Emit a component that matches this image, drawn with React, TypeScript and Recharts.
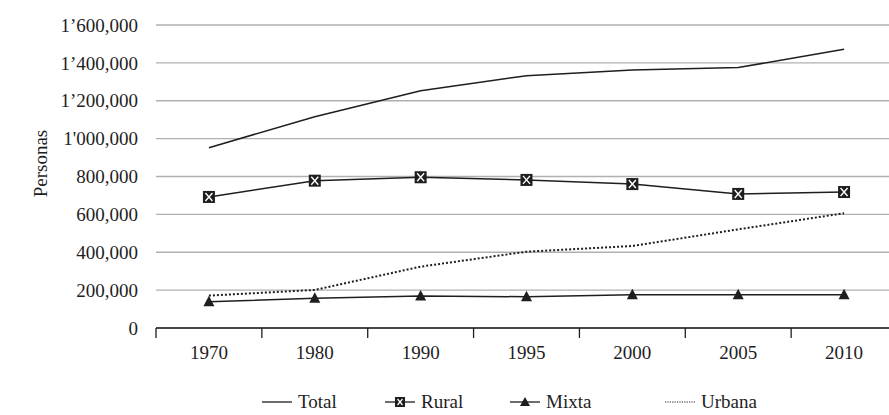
import React from 'react';
import { LineChart, Line, XAxis, YAxis, CartesianGrid, Legend } from 'recharts';

const years = ['1970', '1980', '1990', '1995', '2000', '2005', '2010'];
const total = [952000, 1116000, 1253000, 1332000, 1362000, 1375000, 1472000];
const rural = [692000, 778000, 796000, 782000, 760000, 708000, 718000];
const mixta = [139000, 157000, 169000, 165000, 176000, 176000, 176000];
const urbana = [171000, 201000, 324000, 403000, 433000, 521000, 606000];

const yTicks = [0, 200000, 400000, 600000, 800000, 1000000, 1200000, 1400000, 1600000];
const yTickLabels = ['0', '200,000', '400,000', '600,000', '800,000', "1'000,000", '1’200,000', '1’400,000', '1’600,000'];

const data = years.map((year, i) => ({
  year,
  total: total[i],
  rural: rural[i],
  mixta: mixta[i],
  urbana: urbana[i],
}));

const FONT = '"Liberation Serif", "DejaVu Serif", serif';
const INK = '#1e1e1e';

const RuralDot = (props: any) => {
  const { cx, cy } = props;
  if (cx == null || cy == null) return null;
  return (
    <g>
      <rect x={cx - 6} y={cy - 6} width={12} height={12} fill={INK} />
      <path
        d={`M${cx - 3.5},${cy - 4} L${cx + 3.5},${cy + 4} M${cx + 3.5},${cy - 4} L${cx - 3.5},${cy + 4}`}
        stroke="#fff"
        strokeWidth={1.4}
      />
    </g>
  );
};

const MixtaDot = (props: any) => {
  const { cx, cy } = props;
  if (cx == null || cy == null) return null;
  return <polygon points={`${cx},${cy - 6} ${cx + 5.5},${cy + 4.5} ${cx - 5.5},${cy + 4.5}`} fill={INK} />;
};

// category labels sit in the middle of each band, tick marks on the band edges
const YearTick = (props: any) => {
  const { x, y, payload } = props;
  const half = payload?.offset ? payload.offset : 741 / years.length / 2;
  return (
    <g>
      <line x1={x - half} x2={x - half} y1={y} y2={y + 10} stroke={INK} strokeWidth={1.3} />
      <text x={x} y={y + 31} textAnchor="middle" fill={INK} fontSize={19} fontFamily={FONT}>
        {payload.value}
      </text>
    </g>
  );
};

const legendItems = [
  { key: 'Total', left: 262, icon: 'line' },
  { key: 'Rural', left: 385, icon: 'square' },
  { key: 'Mixta', left: 510, icon: 'triangle' },
  { key: 'Urbana', left: 665, icon: 'dotted' },
];

const LegendIcon = ({ type }: { type: string }) => (
  <svg width={30} height={14} style={{ marginRight: 6 }}>
    <line
      x1={0}
      x2={30}
      y1={7}
      y2={7}
      stroke={INK}
      strokeWidth={type === 'dotted' ? 1.2 : 1.3}
      strokeDasharray={type === 'dotted' ? '1.2 1.2' : undefined}
    />
    {type === 'square' && (
      <g>
        <rect x={10} y={2} width={10} height={10} fill={INK} />
        <path d="M12.5,4 L17.5,10 M17.5,4 L12.5,10" stroke="#fff" strokeWidth={1.2} />
      </g>
    )}
    {type === 'triangle' && <polygon points="15,2 20,11 10,11" fill={INK} />}
  </svg>
);

const renderLegend = () => (
  <div style={{ position: 'relative', width: 889, height: 24 }}>
    {legendItems.map((item) => (
      <div
        key={item.key}
        style={{
          position: 'absolute',
          left: item.left,
          top: 0,
          display: 'flex',
          alignItems: 'center',
          fontFamily: FONT,
          fontSize: 19,
          color: INK,
          whiteSpace: 'nowrap',
        }}
      >
        <LegendIcon type={item.icon} />
        <span>{item.key}</span>
      </div>
    ))}
  </div>
);

const PersonasLabel = (props: any) => {
  const vb = props.viewBox || {};
  const cx = 40;
  const cy = (vb.y ?? 25) + (vb.height ?? 303) / 2 - 13;
  return (
    <text
      x={cx}
      y={cy}
      transform={`rotate(-90, ${cx}, ${cy})`}
      textAnchor="middle"
      dominantBaseline="central"
      fontSize={19}
      fontFamily={FONT}
      fill={INK}
    >
      Personas
    </text>
  );
};

export default function App() {
  return (
    <div style={{ width: 889, height: 415, background: '#fff' }}>
      <style>{'body{margin:0}'}</style>
      <LineChart width={889} height={415} data={data} margin={{ top: 25, right: -8, left: 0, bottom: 33 }}>
        <CartesianGrid vertical={false} stroke="#b0b0b0" strokeWidth={1.4} />
        <XAxis
          dataKey="year"
          scale="band"
          axisLine={{ stroke: INK, strokeWidth: 1.5 }}
          tickLine={false}
          tickSize={0}
          tickMargin={0}
          height={30}
          interval={0}
          tick={<YearTick />}
        />
        <YAxis
          width={156}
          domain={[0, 1600000]}
          ticks={yTicks}
          interval={0}
          axisLine={false}
          tickLine={false}
          tickSize={6}
          tickMargin={12}
          tickFormatter={(v: number) => yTickLabels[yTicks.indexOf(v)] ?? String(v)}
          tick={{ fill: INK, fontSize: 19, fontFamily: FONT }}
          label={<PersonasLabel />}
        />
        <Legend
          verticalAlign="bottom"
          content={renderLegend}
          wrapperStyle={{ left: 0, bottom: 0, width: 889, height: 24 }}
        />
        <Line dataKey="total" stroke={INK} strokeWidth={1.5} dot={false} isAnimationActive={false} />
        <Line dataKey="rural" stroke={INK} strokeWidth={1.5} dot={<RuralDot />} isAnimationActive={false} />
        <Line dataKey="mixta" stroke={INK} strokeWidth={1.5} dot={<MixtaDot />} isAnimationActive={false} />
        <Line
          dataKey="urbana"
          stroke={INK}
          strokeWidth={2}
          strokeDasharray="2 2"
          dot={false}
          isAnimationActive={false}
        />
      </LineChart>
    </div>
  );
}
